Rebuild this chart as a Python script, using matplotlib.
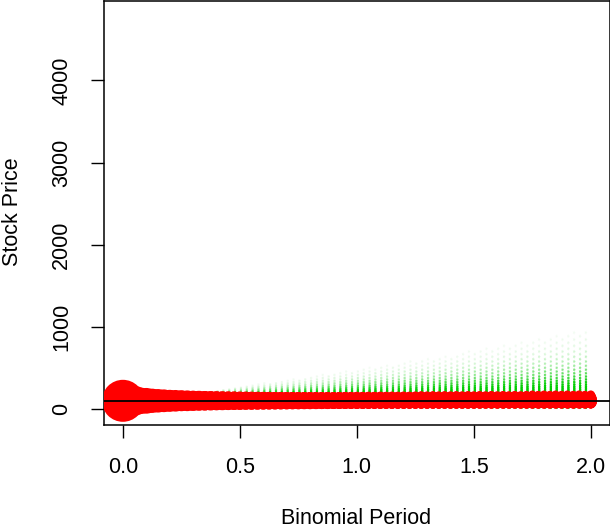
import numpy as np
import matplotlib
matplotlib.use('Agg')
import matplotlib.pyplot as plt
from matplotlib.collections import LineCollection
from math import comb

##=========================================
# Binomial tree settings
##=========================================
s0 = 100.0        # start price, also the horizontal line
t_end = 2.0       # last period on the x axis
n_steps = 80      # 40 steps per unit of time
sigma = 0.3
rate = 0.05

x_ticks = [0.0, 0.5, 1.0, 1.5, 2.0]
x_labels = ['0.0', '0.5', '1.0', '1.5', '2.0']
y_ticks = [0, 1000, 2000, 3000, 4000]
y_labels = ['0', '1000', '2000', '3000', '4000']

##=========================================
# Lattice
##=========================================
dt = t_end / n_steps
u = np.exp(sigma * np.sqrt(dt))
d = 1.0 / u
p_up = (np.exp(rate * dt) - d) / (u - d)
green = (0.0, 0.80, 0.0)

all_t, all_s, all_p = [], [], []
segs, cols = [], []
for n in range(n_steps + 1):
    j = np.arange(n + 1)
    price = s0 * u**j * d**(n - j)
    prob = np.array([comb(n, k) for k in j], dtype=float) * p_up**j * (1 - p_up)**(n - j)
    all_t += [n * dt] * (n + 1)
    all_s += list(price)
    all_p += list(prob)
    if n < n_steps:
        alpha = np.clip(2.5 * (prob / prob.max()) ** 0.3, 0, 1)
        for s, a in zip(price, alpha):
            if a < 0.025:
                continue
            for s_next in (s * u, s * d):
                segs.append([(n * dt, s), ((n + 1) * dt, s_next)])
                cols.append((*green, a))

all_t = np.array(all_t)
all_s = np.array(all_s)
all_p = np.array(all_p)
size = 914 * all_p                  # marker area ~ probability
big = all_p > 0.035                 # nodes that make up the red band

##=========================================
# Plot
##=========================================
plt.rcParams['font.family'] = ['Liberation Sans', 'DejaVu Sans']
fs = 15.5

fig = plt.figure(figsize=(6.10, 5.29), dpi=100)
ax = fig.add_axes([104.2 / 610, 104 / 529, 505.3 / 610, 424.5 / 529])

ax.add_collection(LineCollection(segs, colors=cols, linewidths=1.5,
                                 linestyles=(0, (1, 3)), zorder=3))
ax.scatter(all_t[big], all_s[big], s=size[big], c='#ff0000', linewidths=0, zorder=4)
ax.axhline(s0, color='black', lw=1.3, zorder=5)

ax.set_xlim(-0.08, 2.08)
ax.set_ylim(-194.5, 4973)
ax.set_xticks(x_ticks)
ax.set_xticklabels(x_labels)
ax.set_yticks(y_ticks)
ax.set_yticklabels(y_labels, rotation=90, va='center')
ax.tick_params(length=9.5, width=1.0, pad=13.5, labelsize=fs, direction='out')
for sp in ax.spines.values():
    sp.set_linewidth(1.1)

fig.text(356.5 / 610, 1 - 518 / 529, 'Binomial Period', ha='center', va='center', fontsize=fs)
fig.text(13 / 610, 1 - 212 / 529, 'Stock Price', ha='center', va='center',
         rotation=90, fontsize=fs)

plt.savefig('out.png', dpi=100)
